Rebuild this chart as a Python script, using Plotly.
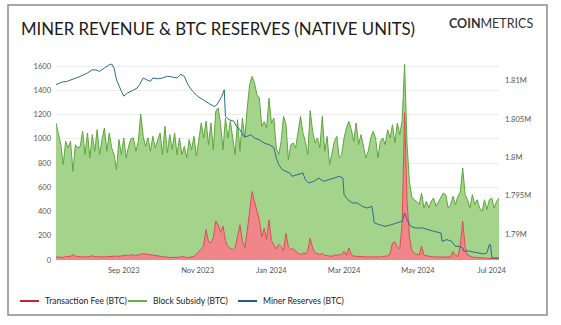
import plotly.graph_objects as go
import pandas as pd

# ---------------- data ----------------
start_date = "2023-07-07"
revenue_step_days = 2

fee_btc = [
    25, 22, 24, 22, 28, 26, 30, 45, 32, 28, 26, 30, 28, 25, 30, 34, 28, 26, 30, 28, 25, 28, 30,
    26, 28, 32, 30, 34, 36, 40, 38, 44, 40, 36, 42, 48, 52, 50, 46, 44, 38, 34, 36, 30, 28,
    26, 22, 20, 22, 20, 18, 22, 30, 24, 20, 22, 26, 30, 50, 70, 90, 120, 250, 150, 140, 185,
    320, 290, 230, 280, 160, 110, 95, 85, 100, 210, 290, 160, 100, 240, 430, 565, 480, 410,
    330, 190, 260, 170, 330, 160,
    127, 90, 130, 110, 75, 220, 110, 85, 95, 70, 55, 45, 58, 50, 80, 180, 100, 60, 50, 44, 55,
    40, 36, 32, 30, 42, 38, 44, 42, 72, 40, 99, 44, 32, 30, 28, 26, 25, 25, 25, 26, 25, 24, 25,
    26, 28,
    30, 34, 50, 140, 150, 110, 90, 300, 1215, 490, 190, 80, 55, 45, 40, 115, 40, 35, 30, 28,
    26, 25, 24, 25, 24, 22, 22, 24, 70, 40, 28, 120, 320, 110, 40, 30, 25, 22, 20, 18, 16, 15,
    14, 13, 12, 12, 11, 11,
]

# subsidy + fee (top of the stacked green area)
total_revenue_btc = [
    1130, 1050, 951, 786, 979, 924, 979, 731, 951, 924, 938, 1062, 869, 1048, 842, 1034, 897,
    1075, 869, 993, 1089, 897, 1048, 924, 869, 745, 993, 869, 1007, 842, 938, 1000, 1007, 897,
    979, 1204, 1020, 938, 1007, 897, 1020, 924, 993, 1048, 869,
    1103, 883, 1034, 910, 1048, 869, 1007, 869, 938, 842, 993, 910, 1020, 856, 993, 1130, 1007,
    1144, 951, 1130, 910, 1226, 1254, 1116, 910, 1171, 1007, 1144, 1007, 869, 1157, 897, 1171,
    1007, 1254, 1447, 1515, 1460, 1364, 1336, 1100, 1141, 1089, 1334, 1127,
    1171, 924, 869, 979, 1185, 1116, 828, 951, 965, 924, 1075, 1185, 1048, 979, 869, 1232, 1062,
    965, 1007, 924, 1185, 897, 1020, 786, 883, 979, 1020, 842, 869, 1007, 1089, 1144, 1075, 979,
    1130, 951, 1034, 924, 842, 897, 1007, 1062, 1007, 842, 979, 1007,
    951, 1075, 1007, 1116, 965, 1130, 1034, 1150, 1615, 965, 640, 520, 497, 484, 457, 553, 429,
    484, 429, 484, 511, 443, 484, 511, 553, 539, 429, 457, 525, 457, 525, 560, 759, 540, 497,
    429, 539, 457, 497, 429, 402, 497, 416, 497, 511, 429, 484, 511,
]

reserve_day_offsets = [
    0, 5, 9, 15, 20, 26, 30, 33, 36, 40, 44, 46, 48, 50, 52, 54, 56, 59, 63, 67, 69, 72, 75, 78,
    80, 84, 88, 92, 95, 100, 103, 106, 109, 113, 117, 121, 124, 128, 131, 133, 137, 139, 140,
    143, 147, 149, 152, 155, 158, 161, 164, 168, 172, 176, 180, 182, 184, 187, 190, 193, 195,
    199, 204, 206, 209, 213, 217, 221, 226, 230, 234, 237, 238, 241, 245, 249, 253, 257, 261,
    263, 267, 272, 277, 282, 286, 288, 290, 293, 297, 303, 307, 312, 318, 319, 323, 327, 330,
    333, 336, 337, 340, 344, 349, 353, 356, 358, 359, 360, 366,
]
reserve_k_btc = [
    1809.50, 1809.84, 1809.93, 1810.27, 1810.58, 1811.02, 1811.45, 1811.41, 1811.24, 1811.67,
    1812.10, 1812.19, 1811.67, 1810.14, 1809.28, 1808.63, 1808.00, 1808.41, 1808.71, 1809.06,
    1809.49, 1810.37, 1810.14, 1809.93, 1810.37, 1810.27, 1810.37, 1810.60, 1810.54, 1810.37,
    1810.85, 1810.60, 1809.49, 1808.63, 1807.98, 1807.54, 1807.32, 1806.88, 1806.67, 1806.88,
    1807.98, 1808.84, 1805.37, 1804.92, 1804.71, 1804.06, 1803.62, 1802.75, 1802.75, 1802.96,
    1802.53, 1802.31, 1801.88, 1801.66, 1801.30, 1799.92, 1799.05, 1798.39, 1798.18, 1797.96,
    1797.53, 1797.74, 1797.96, 1797.09, 1796.66, 1796.88, 1797.31, 1796.88, 1797.09, 1797.31,
    1797.53, 1797.31, 1795.14, 1794.48, 1794.05, 1794.05, 1793.61, 1793.39, 1793.61, 1791.44,
    1791.21, 1791.00, 1791.21, 1791.44, 1791.66, 1792.74, 1791.87, 1791.00, 1790.78, 1790.78,
    1790.57, 1790.35, 1790.13, 1789.04, 1789.26, 1789.04, 1788.39, 1788.39, 1788.17, 1787.74,
    1787.80, 1787.65, 1787.52, 1787.39, 1787.52, 1788.60, 1788.60, 1786.87, 1786.87,
]

x_tick_dates = ["2023-09-01", "2023-11-01", "2024-01-01", "2024-03-01", "2024-05-01", "2024-07-01"]
x_tick_labels = ["Sep 2023", "Nov 2023", "Jan 2024", "Mar 2024", "May 2024", "Jul 2024"]
left_tick_vals = [0, 200, 400, 600, 800, 1000, 1200, 1400, 1600]
right_tick_vals = [1790000, 1795000, 1800000, 1805000, 1810000]
right_tick_labels = ["1.79M", "1.795M", "1.8M", "1.805M", "1.81M"]

series_names = ["Transaction Fee (BTC)", "Block Subsidy (BTC)", "Miner Reserves (BTC)"]
series_colors = ["#c9262c", "#6aad48", "#1d5f7e"]

title_text = "MINER REVENUE &amp; BTC RESERVES (NATIVE UNITS)"
logo_text = "<b>COIN</b>METRICS"

# ---------------- build ----------------
dates = pd.date_range(start_date, periods=len(fee_btc), freq=f"{revenue_step_days}D")
reserve_dates = pd.to_datetime(start_date) + pd.to_timedelta(reserve_day_offsets, unit="D")
reserves_btc = [v * 1000 for v in reserve_k_btc]

W, H = 561, 325
L, R, T, B = 56, 499, 63, 260  # plot area in pixels


def px(x):
    return (x - L) / (R - L)


def py(y):
    return (B - y) / (B - T)


FONT = "Lato, 'Open Sans', sans-serif"

fig = go.Figure()
fig.add_trace(go.Scatter(
    x=dates, y=fee_btc, mode="lines", name=series_names[0],
    line=dict(color="#dc4a50", width=1), fill="tozeroy",
    fillcolor="rgba(241,134,138,1)", showlegend=False))
fig.add_trace(go.Scatter(
    x=dates, y=total_revenue_btc, mode="lines", name=series_names[1],
    line=dict(color="#5ea63d", width=1), fill="tonexty",
    fillcolor="rgba(164,211,139,1)", showlegend=False))
fig.add_trace(go.Scatter(
    x=reserve_dates, y=reserves_btc, mode="lines", name=series_names[2], yaxis="y2",
    line=dict(color="#2c6d8a", width=1), showlegend=False))

fig.update_layout(
    width=W, height=H,
    margin=dict(l=L, r=W - R, t=T, b=H - B, pad=0),
    paper_bgcolor="white", plot_bgcolor="white",
    font=dict(family=FONT, color="#555"),
    xaxis=dict(range=[start_date, "2024-07-07"], tickvals=x_tick_dates, ticktext=x_tick_labels,
               tickfont=dict(size=7.5, color="#555"), showgrid=False, zeroline=False,
               showline=False, ticks="", ticklabelstandoff=4),
    yaxis=dict(range=[0, 1625], tickvals=left_tick_vals, tickfont=dict(size=7.5, color="#555"),
               showgrid=True, gridcolor="#ededed", gridwidth=1, zeroline=False, ticks="",
               ticklabelstandoff=4),
    yaxis2=dict(overlaying="y", side="right", range=[1786600, 1812330],
                tickvals=right_tick_vals, ticktext=right_tick_labels,
                tickfont=dict(size=7.5, color="#555"), showgrid=False, zeroline=False,
                ticks="", ticklabelstandoff=5),
    showlegend=False,
)

shapes = [dict(type="rect", xref="paper", yref="paper",
               x0=px(8), x1=px(547), y0=py(315), y1=py(5),
               line=dict(color="#8a8a8a", width=1.5), fillcolor="rgba(0,0,0,0)", layer="below")]
annotations = [
    dict(text=title_text, xref="paper", yref="paper", x=px(19), y=py(29), xanchor="left",
         yanchor="middle", showarrow=False, font=dict(family=FONT, size=16.8, color="#1b1b1b")),
    dict(text=logo_text, xref="paper", yref="paper", x=px(535), y=py(23), xanchor="right",
         yanchor="middle", showarrow=False, font=dict(family=FONT, size=12.5, color="#333")),
]
legend_line_x = [(20, 39), (128, 147), (238, 257)]
legend_y = 301
for (x0, x1), name, col in zip(legend_line_x, series_names, series_colors):
    shapes.append(dict(type="line", xref="paper", yref="paper", x0=px(x0), x1=px(x1),
                       y0=py(legend_y), y1=py(legend_y), line=dict(color=col, width=2)))
    annotations.append(dict(text=name, xref="paper", yref="paper", x=px(x1 + 4), y=py(legend_y),
                            xanchor="left", yanchor="middle", showarrow=False,
                            font=dict(family=FONT, size=8.6, color="#222")))
fig.update_layout(shapes=shapes, annotations=annotations)

fig.write_html("out.html")
